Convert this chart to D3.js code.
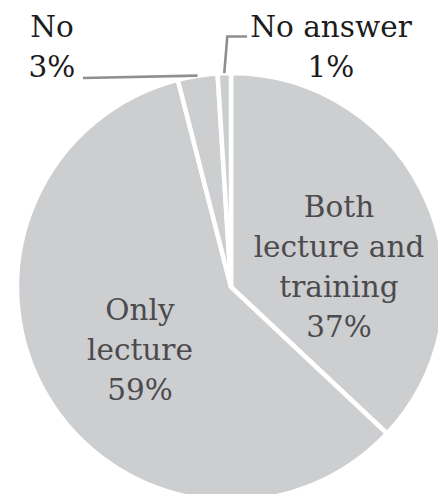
<!DOCTYPE html>
<html>
<head>
<meta charset="utf-8">
<script src="https://cdn.jsdelivr.net/npm/d3@7"></script>
<style>
  html, body { margin: 0; padding: 0; background: #ffffff; overflow: hidden; }
  svg { display: block; }
</style>
</head>
<body>
<svg id="chart" width="438" height="494"></svg>
<script>
// Training received: share of respondents (%)
const categories = ["Both lecture and training", "Only lecture", "No", "No answer"];
const values = [37, 59, 3, 1];
// Multi-line label text for each slice
const labelLines = [
  ["Both", "lecture and", "training", "37%"],
  ["Only", "lecture", "59%"],
  ["No", "3%"],
  ["No answer", "1%"]
];

const W = 438, H = 494;
const cx = 231, cy = 287, R = 214;
const fontFamily = "'DejaVu Serif', serif";
const fontSize = 29.5;
const lineGap = 40;

const svg = d3.select("#chart");
const g = svg.append("g").attr("transform", `translate(${cx},${cy})`);

const pie = d3.pie().sort(null).value(d => d).startAngle(0).endAngle(2 * Math.PI);
const arcs = pie(values);
const arc = d3.arc().innerRadius(0).outerRadius(R);

g.selectAll("path.slice")
  .data(arcs)
  .join("path")
  .attr("class", "slice")
  .attr("d", arc)
  .attr("fill", "#cdced0")
  .attr("stroke", "#ffffff")
  .attr("stroke-width", 4.5)
  .attr("stroke-linejoin", "miter");

// point on the rim at a slice's middle angle
function rimPoint(a, r) {
  const m = (a.startAngle + a.endAngle) / 2;
  return [r * Math.sin(m), -r * Math.cos(m)];
}

// label anchors (block centre x, first baseline y), relative to the page
const inside = [
  { x: 339, y: 217, color: "#4b4b4d" },
  { x: 140, y: 320, color: "#4b4b4d" }
];
const outside = [
  { x: 52, y: 37, color: "#1c1c1c" },
  { x: 331, y: 37, color: "#1c1c1c" }
];
const anchors = [inside[0], inside[1], outside[0], outside[1]];

// leader lines for the two thin slices
const leaderColor = "#8f8f8f";
{
  const p = rimPoint(arcs[2], R);
  g.append("path")
    .attr("d", d3.line()([[p[0], p[1]], [83 - cx, 78 - cy]]))
    .attr("fill", "none").attr("stroke", leaderColor).attr("stroke-width", 2.6);
}
{
  const p = rimPoint(arcs[3], R);
  g.append("path")
    .attr("d", d3.line()([[p[0], p[1]], [227.3 - cx, 36.5 - cy], [247 - cx, 36.5 - cy]]))
    .attr("fill", "none").attr("stroke", leaderColor).attr("stroke-width", 2.6);
}

// labels
labelLines.forEach((lines, i) => {
  const a = anchors[i];
  const t = svg.append("text")
    .attr("text-anchor", "middle")
    .attr("font-family", fontFamily)
    .attr("font-size", fontSize)
    .attr("fill", a.color);
  lines.forEach((s, k) => {
    t.append("tspan").attr("x", a.x).attr("y", a.y + k * lineGap).text(s);
  });
});
</script>
</body>
</html>
